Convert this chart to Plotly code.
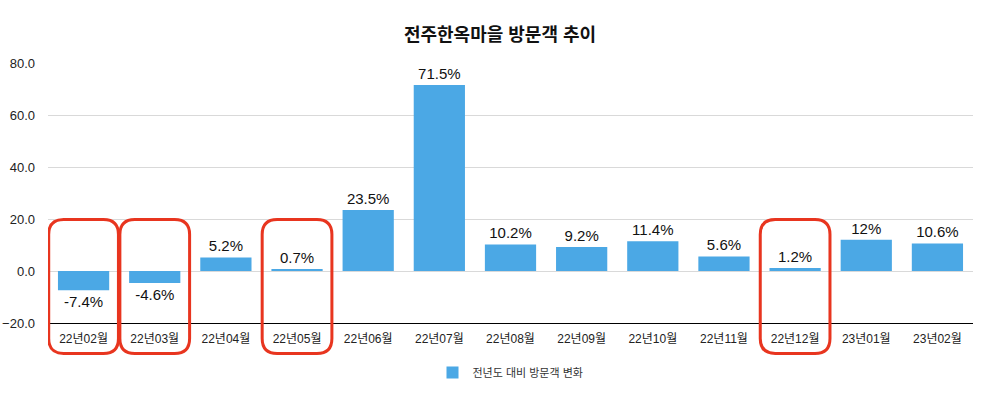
import plotly.graph_objects as go

categories = ["22년02월", "22년03월", "22년04월", "22년05월", "22년06월", "22년07월",
              "22년08월", "22년09월", "22년10월", "22년11월", "22년12월", "23년01월", "23년02월"]
values = [-7.4, -4.6, 5.2, 0.7, 23.5, 71.5, 10.2, 9.2, 11.4, 5.6, 1.2, 12, 10.6]
labels = [f"{v:g}%" for v in values]
highlighted = [0, 1, 3, 10]
series_name = "전년도 대비 방문객 변화"
title = "전주한옥마을 방문객 추이"

FONT = "Liberation Sans, Noto Sans CJK KR, sans-serif"
BAR = "#4BA8E5"
RED = "#E8351F"

fig = go.Figure()
fig.add_trace(go.Bar(
    x=list(range(len(categories))), y=values, name=series_name,
    marker=dict(color=BAR, line=dict(width=0)),
    text=labels, textposition="outside", cliponaxis=False,
    textfont=dict(size=15, color="#111111", family=FONT),
    showlegend=True,
))

# rounded highlight boxes
plot_h = 260.0
cat_w = 925.0 / len(categories)
rx = 15.0 / cat_w
ry = 15.0 / plot_h
top, bot = 0.398, -0.117
for i in highlighted:
    x0, x1 = i - 0.49, i + 0.49
    path = (f"M {x0+rx},{top} L {x1-rx},{top} Q {x1},{top} {x1},{top-ry} "
            f"L {x1},{bot+ry} Q {x1},{bot} {x1-rx},{bot} "
            f"L {x0+rx},{bot} Q {x0},{bot} {x0},{bot+ry} "
            f"L {x0},{top-ry} Q {x0},{top} {x0+rx},{top} Z")
    fig.add_shape(type="path", path=path, xref="x", yref="paper",
                  line=dict(color=RED, width=3), layer="above")

fig.update_layout(
    width=1000, height=399,
    margin=dict(l=48, r=27, t=63, b=76),
    paper_bgcolor="white", plot_bgcolor="white",
    font=dict(family=FONT, color="#222222"),
    title=dict(text=f"<b>{title}</b>", x=0.5, xanchor="center", y=0.912, yanchor="middle",
               font=dict(size=18, color="#111111", family=FONT)),
    bargap=0.28,
    showlegend=True,
    legend=dict(orientation="h", x=0.5, xanchor="center", y=-0.19, yanchor="middle",
                font=dict(size=11, color="#333333", family=FONT)),
    xaxis=dict(tickmode="array", tickvals=list(range(len(categories))), ticktext=categories,
               range=[-0.5, len(categories) - 0.5], automargin=False,
               showline=True, linecolor="#000000", linewidth=1, showgrid=False,
               ticks="", ticklabelstandoff=5,
               tickfont=dict(size=12, color="#222222", family=FONT)),
    yaxis=dict(range=[-20, 80], tickvals=[-20, 0, 20, 40, 60, 80], tickformat=".1f",
               automargin=False,
               showgrid=True, gridcolor="#D9D9D9", gridwidth=1, zeroline=False,
               showline=False, ticks="", ticklabelstandoff=12,
               tickfont=dict(size=13, color="#222222", family=FONT)),
)

fig.write_html("out.html", config={"displayModeBar": False},
               post_script="document.body.style.margin='0';")
